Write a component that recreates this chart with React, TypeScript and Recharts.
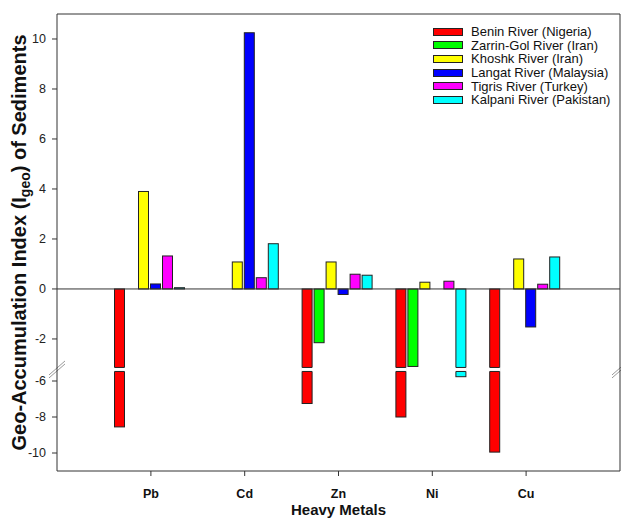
import { Bar, BarChart, Legend, ReferenceLine, XAxis, YAxis } from "recharts";

const FONT = '"Liberation Sans", Arial, Helvetica, sans-serif';

const metals = ["Pb", "Cd", "Zn", "Ni", "Cu"];

// Igeo per river; null where no value was reported
const benin = [-8.55, null, -7.25, -8.0, -9.95];
const zarrinGol = [null, null, -2.15, -3.1, null];
const khoshk = [3.9, 1.08, 1.08, 0.27, 1.2];
const langat = [0.2, 10.25, -0.22, null, -1.52];
const tigris = [1.32, 0.45, 0.59, 0.31, 0.19];
const kalpani = [0.05, 1.81, 0.55, -5.76, 1.28];

const yTickValues = [10, 8, 6, 4, 2, 0, -2, -6, -8, -10];

const series = [
  { key: "benin", name: "Benin River (Nigeria)", color: "#FF0000", values: benin },
  { key: "zarrin", name: "Zarrin-Gol River (Iran)", color: "#00FF00", values: zarrinGol },
  { key: "khoshk", name: "Khoshk River (Iran)", color: "#FFFF00", values: khoshk },
  { key: "langat", name: "Langat River (Malaysia)", color: "#0000FF", values: langat },
  { key: "tigris", name: "Tigris River (Turkey)", color: "#FF00FF", values: tigris },
  { key: "kalpani", name: "Kalpani River (Pakistan)", color: "#00FFFF", values: kalpani },
];

// broken y axis: upper part runs down to UPPER_BREAK, lower part starts at LOWER_BREAK
// and is drawn compressed
const UPPER_BREAK = -3.2;
const LOWER_BREAK = -5.33;
const LOWER_SCALE = 0.72;
const Y_MIN = -11;
const Y_MAX = 11;

function toAxis(v: number) {
  if (v >= UPPER_BREAK) return v;
  return UPPER_BREAK + (v - LOWER_BREAK) * LOWER_SCALE;
}

const data = metals.map((metal, i) => {
  const row: Record<string, any> = { metal };
  series.forEach((s) => {
    const v = s.values[i];
    row[s.key] = v == null ? null : toAxis(v);
    row[s.key + "Raw"] = v;
  });
  return row;
});

const yTicks = yTickValues.map(toAxis);
const yDomain = [toAxis(Y_MIN), Y_MAX];

function tickLabel(d: number) {
  const v = yTickValues.find((t) => Math.abs(toAxis(t) - d) < 1e-6);
  return v == null ? "" : String(v);
}

const makeShape = (key: string) => (props: any) => {
  const { x, y, width, height, fill, payload } = props;
  const raw = payload ? payload[key + "Raw"] : null;
  if (raw == null || width == null || height == null) return <g />;
  const top = Math.min(y, y + height);
  const h = Math.abs(height);
  const rect = (
    <rect x={x} y={top} width={width} height={h} fill={fill} stroke="#222" strokeWidth={1} />
  );
  if (raw >= LOWER_BREAK) return rect;
  const d = payload[key];
  const by = top + h * (UPPER_BREAK / d) + 0.5;
  return (
    <g>
      {rect}
      <rect x={x - 1} y={by - 2} width={width + 2} height={4} fill="#fff" />
      <line x1={x} x2={x + width} y1={by - 2} y2={by - 2} stroke="#222" />
      <line x1={x} x2={x + width} y1={by + 2} y2={by + 2} stroke="#222" />
    </g>
  );
};

const BreakMarks = (props: any) => {
  const vb = props.viewBox;
  if (!vb) return null;
  const marks = [vb.x, vb.x + vb.width];
  return (
    <g stroke="#999" strokeWidth={1}>
      {marks.map((mx: number, i: number) => (
        <g key={i}>
          <line x1={mx - 8} y1={vb.y + 6} x2={mx + 8} y2={vb.y - 8} />
          <line x1={mx - 8} y1={vb.y + 9} x2={mx + 8} y2={vb.y - 5} />
        </g>
      ))}
    </g>
  );
};

const YTitle = (props: any) => {
  const vb = props.viewBox;
  const cx = 26;
  const cy = vb.y + vb.height / 2;
  return (
    <text
      x={cx}
      y={cy}
      transform={`rotate(-90, ${cx}, ${cy})`}
      textAnchor="middle"
      fontFamily={FONT}
      fontWeight="bold"
      fontSize={20}
      fill="#111"
    >
      Geo-Accumulation Index (I
      <tspan fontSize={14} dy={4}>geo</tspan>
      <tspan dy={-4}>) of Sediments</tspan>
    </text>
  );
};

const XTitle = (props: any) => {
  const vb = props.viewBox;
  return (
    <text
      x={vb.x + vb.width / 2}
      y={vb.y + 44}
      textAnchor="middle"
      fontFamily={FONT}
      fontWeight="bold"
      fontSize={15}
      fill="#111"
    >
      Heavy Metals
    </text>
  );
};

const LegendBox = () => (
  <div style={{ fontFamily: FONT, fontSize: 13, color: "#111" }}>
    {series.map((s) => (
      <div key={s.key} style={{ display: "flex", alignItems: "center", height: 13.66 }}>
        <div
          style={{
            width: 28,
            height: 6,
            background: s.color,
            border: "1px solid #222",
            marginRight: 8,
          }}
        />
        <span style={{ whiteSpace: "nowrap", lineHeight: "13.66px" }}>{s.name}</span>
      </div>
    ))}
  </div>
);

export default function App() {
  return (
    <div style={{ position: "absolute", left: 0, top: 0, background: "#fff" }}>
      <BarChart
        width={621}
        height={518}
        data={data}
        margin={{ top: 13, right: 0, bottom: 0, left: 0 }}
        barCategoryGap={10.5}
        barGap={2}
      >
        <XAxis
          dataKey="metal"
          height={47}
          interval={0}
          padding={{ left: 47, right: 47 }}
          tickSize={5}
          tickMargin={13}
          tick={{ fontSize: 12.5, fontWeight: "bold", fill: "#111", fontFamily: FONT }}
          axisLine={{ stroke: "#333" }}
          tickLine={{ stroke: "#333" }}
          label={XTitle}
        />
        <XAxis
          xAxisId="top"
          orientation="top"
          dataKey="metal"
          height={1}
          tick={false}
          tickLine={false}
          axisLine={{ stroke: "#333" }}
        />
        <YAxis
          type="number"
          domain={yDomain}
          ticks={yTicks}
          allowDataOverflow
          width={57}
          tickSize={5}
          tickMargin={6}
          tickFormatter={tickLabel}
          tick={{ fontSize: 12.5, fill: "#222", fontFamily: FONT }}
          axisLine={{ stroke: "#333" }}
          tickLine={{ stroke: "#333" }}
          label={YTitle}
        />
        <YAxis
          yAxisId="right"
          orientation="right"
          type="number"
          domain={yDomain}
          allowDataOverflow
          width={1}
          tick={false}
          tickLine={false}
          axisLine={{ stroke: "#333" }}
        />
        <Legend
          layout="vertical"
          align="center"
          verticalAlign="middle"
          wrapperStyle={{ left: 433, top: 25, width: 190 }}
          content={LegendBox}
        />
        {series.map((s) => (
          <Bar
            key={s.key}
            dataKey={s.key}
            name={s.name}
            fill={s.color}
            shape={makeShape(s.key)}
            isAnimationActive={false}
          />
        ))}
        <ReferenceLine y={0} stroke="#333" />
        <ReferenceLine y={UPPER_BREAK} stroke="none" label={BreakMarks} />
      </BarChart>
    </div>
  );
}
